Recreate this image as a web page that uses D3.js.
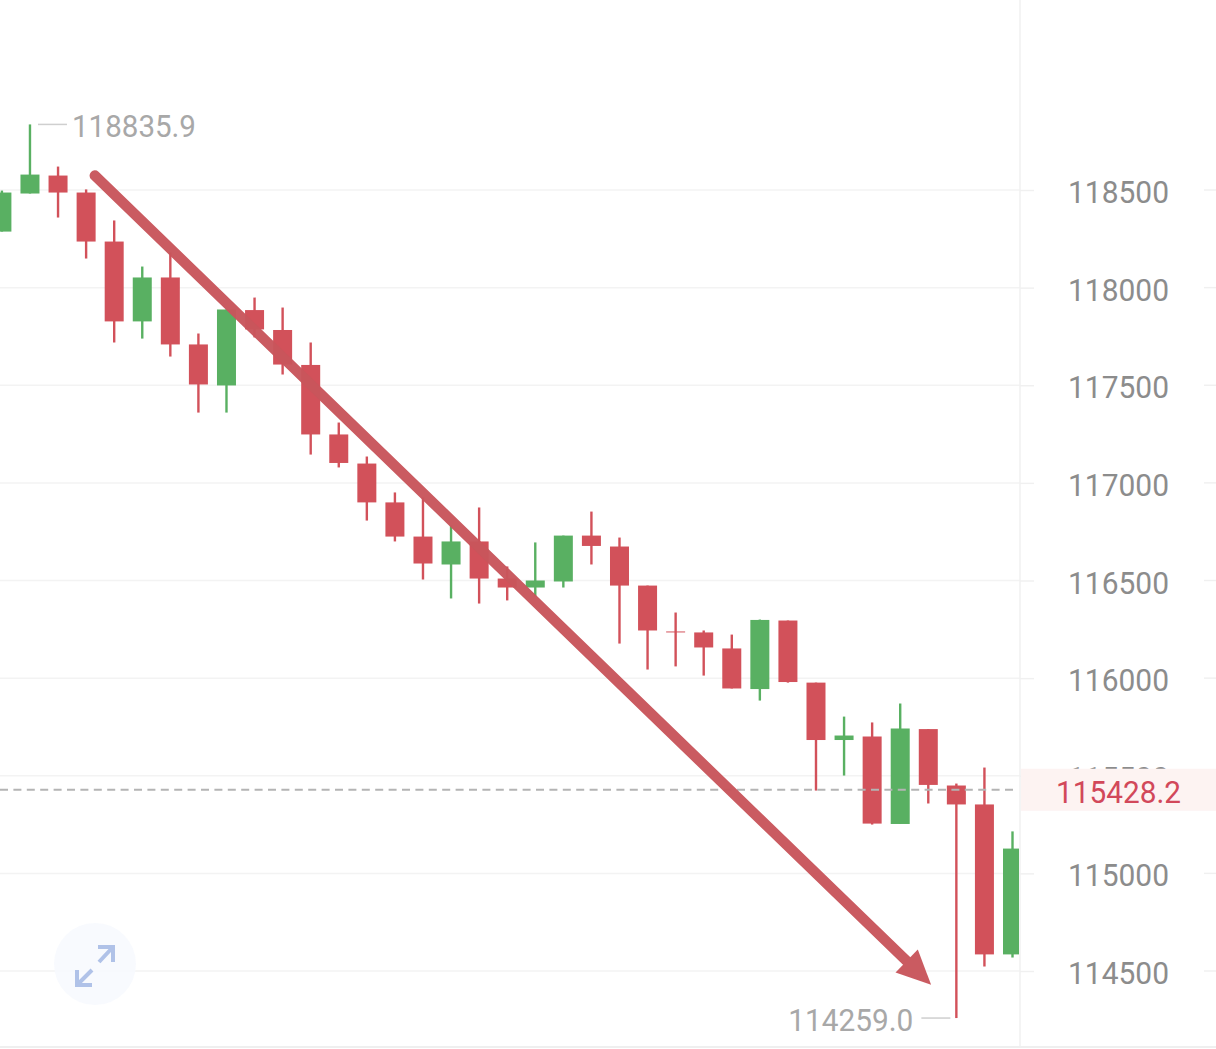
<!DOCTYPE html>
<html>
<head>
<meta charset="utf-8">
<script src="https://cdn.jsdelivr.net/npm/d3@7"></script>
<style>
  html, body { margin: 0; padding: 0; background: #fff; }
  svg { display: block; }
  text { font-family: Roboto, sans-serif; }
</style>
</head>
<body>
<div id="chart"></div>
<script>
// prices, one entry per candle
const opens = [118287, 118482, 118574, 118487, 118236, 117827, 118052, 117709, 117499, 117885, 117783, 117604, 117248, 117099, 116900, 116725, 116582, 116700, 116510, 116464, 116495, 116730, 116674, 116474, 116239, 116234, 116152, 115944, 116295, 115977, 115683, 115701, 115253, 115739, 115450, 115353, 114585];
const closes = [118487, 118579, 118487, 118236, 117827, 118052, 117709, 117504, 117888, 117786, 117606, 117248, 117102, 116900, 116725, 116587, 116700, 116510, 116464, 116500, 116730, 116677, 116474, 116244, 116234, 116157, 115947, 116298, 115980, 115683, 115706, 115255, 115742, 115453, 115353, 114585, 115127];
const highs = [118497, 118835.9, 118620, 118503, 118344, 118108, 118180, 117765, 117888, 117949, 117898, 117719, 117309, 117135, 116951, 116925, 116782, 116874, 116572, 116695, 116730, 116853, 116720, 116474, 116336, 116244, 116223, 116300, 116295, 115977, 115803, 115773, 115870, 115739, 115460, 115542, 115215];
const lows = [118287, 118482, 118359, 118149, 117719, 117739, 117647, 117360, 117360, 117745, 117555, 117145, 117079, 116807, 116700, 116505, 116408, 116382, 116398, 116418, 116464, 116582, 116177, 116044, 116060, 116013, 115947, 115885, 115977, 115424, 115501, 115250, 115253, 115358, 114259, 114523, 114569];

const tickLabels = [118500, 118000, 117500, 117000, 116500, 116000, 115500, 115000, 114500];
const lastPrice = 115428.2;
const maxPrice = 118835.9;
const minPrice = 114259.0;
const maxIndex = 1;
const minIndex = 34;

// hand drawn arrow, [candle index, price]
const arrowFrom = [3.31, 118574];
const arrowTo = [33.1, 114430];

const width = 1216;
const height = 1049;
const axisX = 1020;
const fontSize = 32;

const red = "#d2515a";
const green = "#59b062";
const arrowColor = "#c9565c";

const x = d3.scaleLinear().domain([0, 36]).range([1.9, 1012.5]);
const y = d3.scaleLinear().domain([118500, 114500]).range([190, 971]);

const candles = opens.map((o, i) => ({ i, open: o, close: closes[i], high: highs[i], low: lows[i] }));
const color = d => d.close >= d.open ? green : red;

const svg = d3.select("#chart").append("svg")
  .attr("width", width)
  .attr("height", height);

svg.append("clipPath").attr("id", "plot")
  .append("rect")
  .attr("width", axisX - 1)
  .attr("height", height);

// grid
svg.append("g")
  .attr("stroke", "#f3f3f3")
  .attr("stroke-width", 1.5)
  .selectAll("line")
  .data(tickLabels)
  .enter().append("line")
  .attr("x1", 0)
  .attr("x2", axisX)
  .attr("y1", d => y(d))
  .attr("y2", d => y(d));

// axis on the right
const axis = svg.append("g")
  .attr("transform", `translate(${axisX},0)`)
  .call(d3.axisRight(y).tickValues(tickLabels).tickFormat(d3.format("d")).tickSize(14).tickPadding(34));

axis.select(".domain").remove();
axis.selectAll("line").attr("stroke", "#f0f0f0").attr("stroke-width", 1.5);
axis.selectAll("text")
  .attr("font-family", "Roboto, sans-serif")
  .attr("font-size", fontSize)
  .attr("textLength", 101)
  .attr("lengthAdjust", "spacingAndGlyphs")
  .attr("dy", 12.5)
  .attr("fill", "#8c8c8c");

// the grid picks up again right of the labels
svg.append("g")
  .attr("stroke", "#f0f0f0")
  .attr("stroke-width", 1.5)
  .selectAll("line")
  .data(tickLabels)
  .enter().append("line")
  .attr("x1", 1204)
  .attr("x2", width)
  .attr("y1", d => y(d))
  .attr("y2", d => y(d));

svg.append("line")
  .attr("x1", axisX).attr("x2", axisX)
  .attr("y1", 0).attr("y2", 1047)
  .attr("stroke", "#f0f0f0")
  .attr("stroke-width", 1.5);

svg.append("line")
  .attr("x1", 0).attr("x2", width)
  .attr("y1", 1047).attr("y2", 1047)
  .attr("stroke", "#efefef")
  .attr("stroke-width", 2);

// zoom button
svg.append("circle")
  .attr("cx", 95).attr("cy", 964).attr("r", 41)
  .attr("fill", "#f7f9fe")
  .attr("opacity", 0.9);

svg.append("path")
  .attr("d", "M99 962L113 947M98 947H113V962M92 970L77 985M77 970V985H92")
  .attr("fill", "none")
  .attr("stroke", "#b0c2e8")
  .attr("stroke-width", 4);

// candles
const plot = svg.append("g").attr("clip-path", "url(#plot)");

plot.selectAll("line.wick")
  .data(candles)
  .enter().append("line")
  .attr("class", "wick")
  .attr("x1", d => x(d.i))
  .attr("x2", d => x(d.i))
  .attr("y1", d => y(d.high))
  .attr("y2", d => y(d.low))
  .attr("stroke", color)
  .attr("stroke-width", 2.4);

plot.selectAll("rect.body")
  .data(candles)
  .enter().append("rect")
  .attr("class", "body")
  .attr("x", d => x(d.i) - 9.5)
  .attr("width", 19)
  .attr("y", d => y(Math.max(d.open, d.close)))
  .attr("height", d => Math.abs(y(d.open) - y(d.close)))
  .attr("fill", color);

// last price
svg.append("line")
  .attr("x1", 0).attr("x2", 1014)
  .attr("y1", y(lastPrice)).attr("y2", y(lastPrice))
  .attr("stroke", "#b4b4b4")
  .attr("stroke-width", 2)
  .attr("stroke-dasharray", "8 5.4");

svg.append("rect")
  .attr("x", axisX + 1)
  .attr("y", y(lastPrice) - 21)
  .attr("width", width - axisX)
  .attr("height", 42)
  .attr("fill", "#fdf3f2");

svg.append("text")
  .attr("x", 1056)
  .attr("y", y(lastPrice) + 13.5)
  .attr("font-size", fontSize)
  .attr("textLength", 125)
  .attr("lengthAdjust", "spacingAndGlyphs")
  .attr("fill", "#d2485a")
  .text(lastPrice.toFixed(1));

// high and low labels
svg.append("line")
  .attr("x1", x(maxIndex) + 8).attr("x2", x(maxIndex) + 37)
  .attr("y1", y(maxPrice)).attr("y2", y(maxPrice))
  .attr("stroke", "#cfcfcf")
  .attr("stroke-width", 1.5);

svg.append("text")
  .attr("x", x(maxIndex) + 42)
  .attr("y", y(maxPrice) + 13)
  .attr("font-size", fontSize)
  .attr("textLength", 124)
  .attr("lengthAdjust", "spacingAndGlyphs")
  .attr("fill", "#a8a8a8")
  .text(maxPrice.toFixed(1));

svg.append("line")
  .attr("x1", x(minIndex) - 35).attr("x2", x(minIndex) - 6)
  .attr("y1", y(minPrice)).attr("y2", y(minPrice))
  .attr("stroke", "#cfcfcf")
  .attr("stroke-width", 1.5);

svg.append("text")
  .attr("x", x(minIndex) - 168)
  .attr("y", y(minPrice) + 13)
  .attr("font-size", fontSize)
  .attr("textLength", 125)
  .attr("lengthAdjust", "spacingAndGlyphs")
  .attr("fill", "#a8a8a8")
  .text(minPrice.toFixed(1));

// arrow
const ax0 = x(arrowFrom[0]), ay0 = y(arrowFrom[1]);
const ax1 = x(arrowTo[0]), ay1 = y(arrowTo[1]);
const len = Math.hypot(ax1 - ax0, ay1 - ay0);
const ux = (ax1 - ax0) / len, uy = (ay1 - ay0) / len;
const headLen = 34, headHalf = 16;
const baseX = ax1 - ux * headLen, baseY = ay1 - uy * headLen;

const arrow = svg.append("g").attr("opacity", 0.97);

arrow.append("line")
  .attr("x1", ax0).attr("y1", ay0)
  .attr("x2", baseX + ux * 4).attr("y2", baseY + uy * 4)
  .attr("stroke", arrowColor)
  .attr("stroke-width", 10.5)
  .attr("stroke-linecap", "round");

arrow.append("path")
  .attr("d", d3.line()([
    [ax1, ay1],
    [baseX - uy * headHalf, baseY + ux * headHalf],
    [baseX + uy * headHalf, baseY - ux * headHalf]
  ]) + "Z")
  .attr("fill", arrowColor);
</script>
</body>
</html>
